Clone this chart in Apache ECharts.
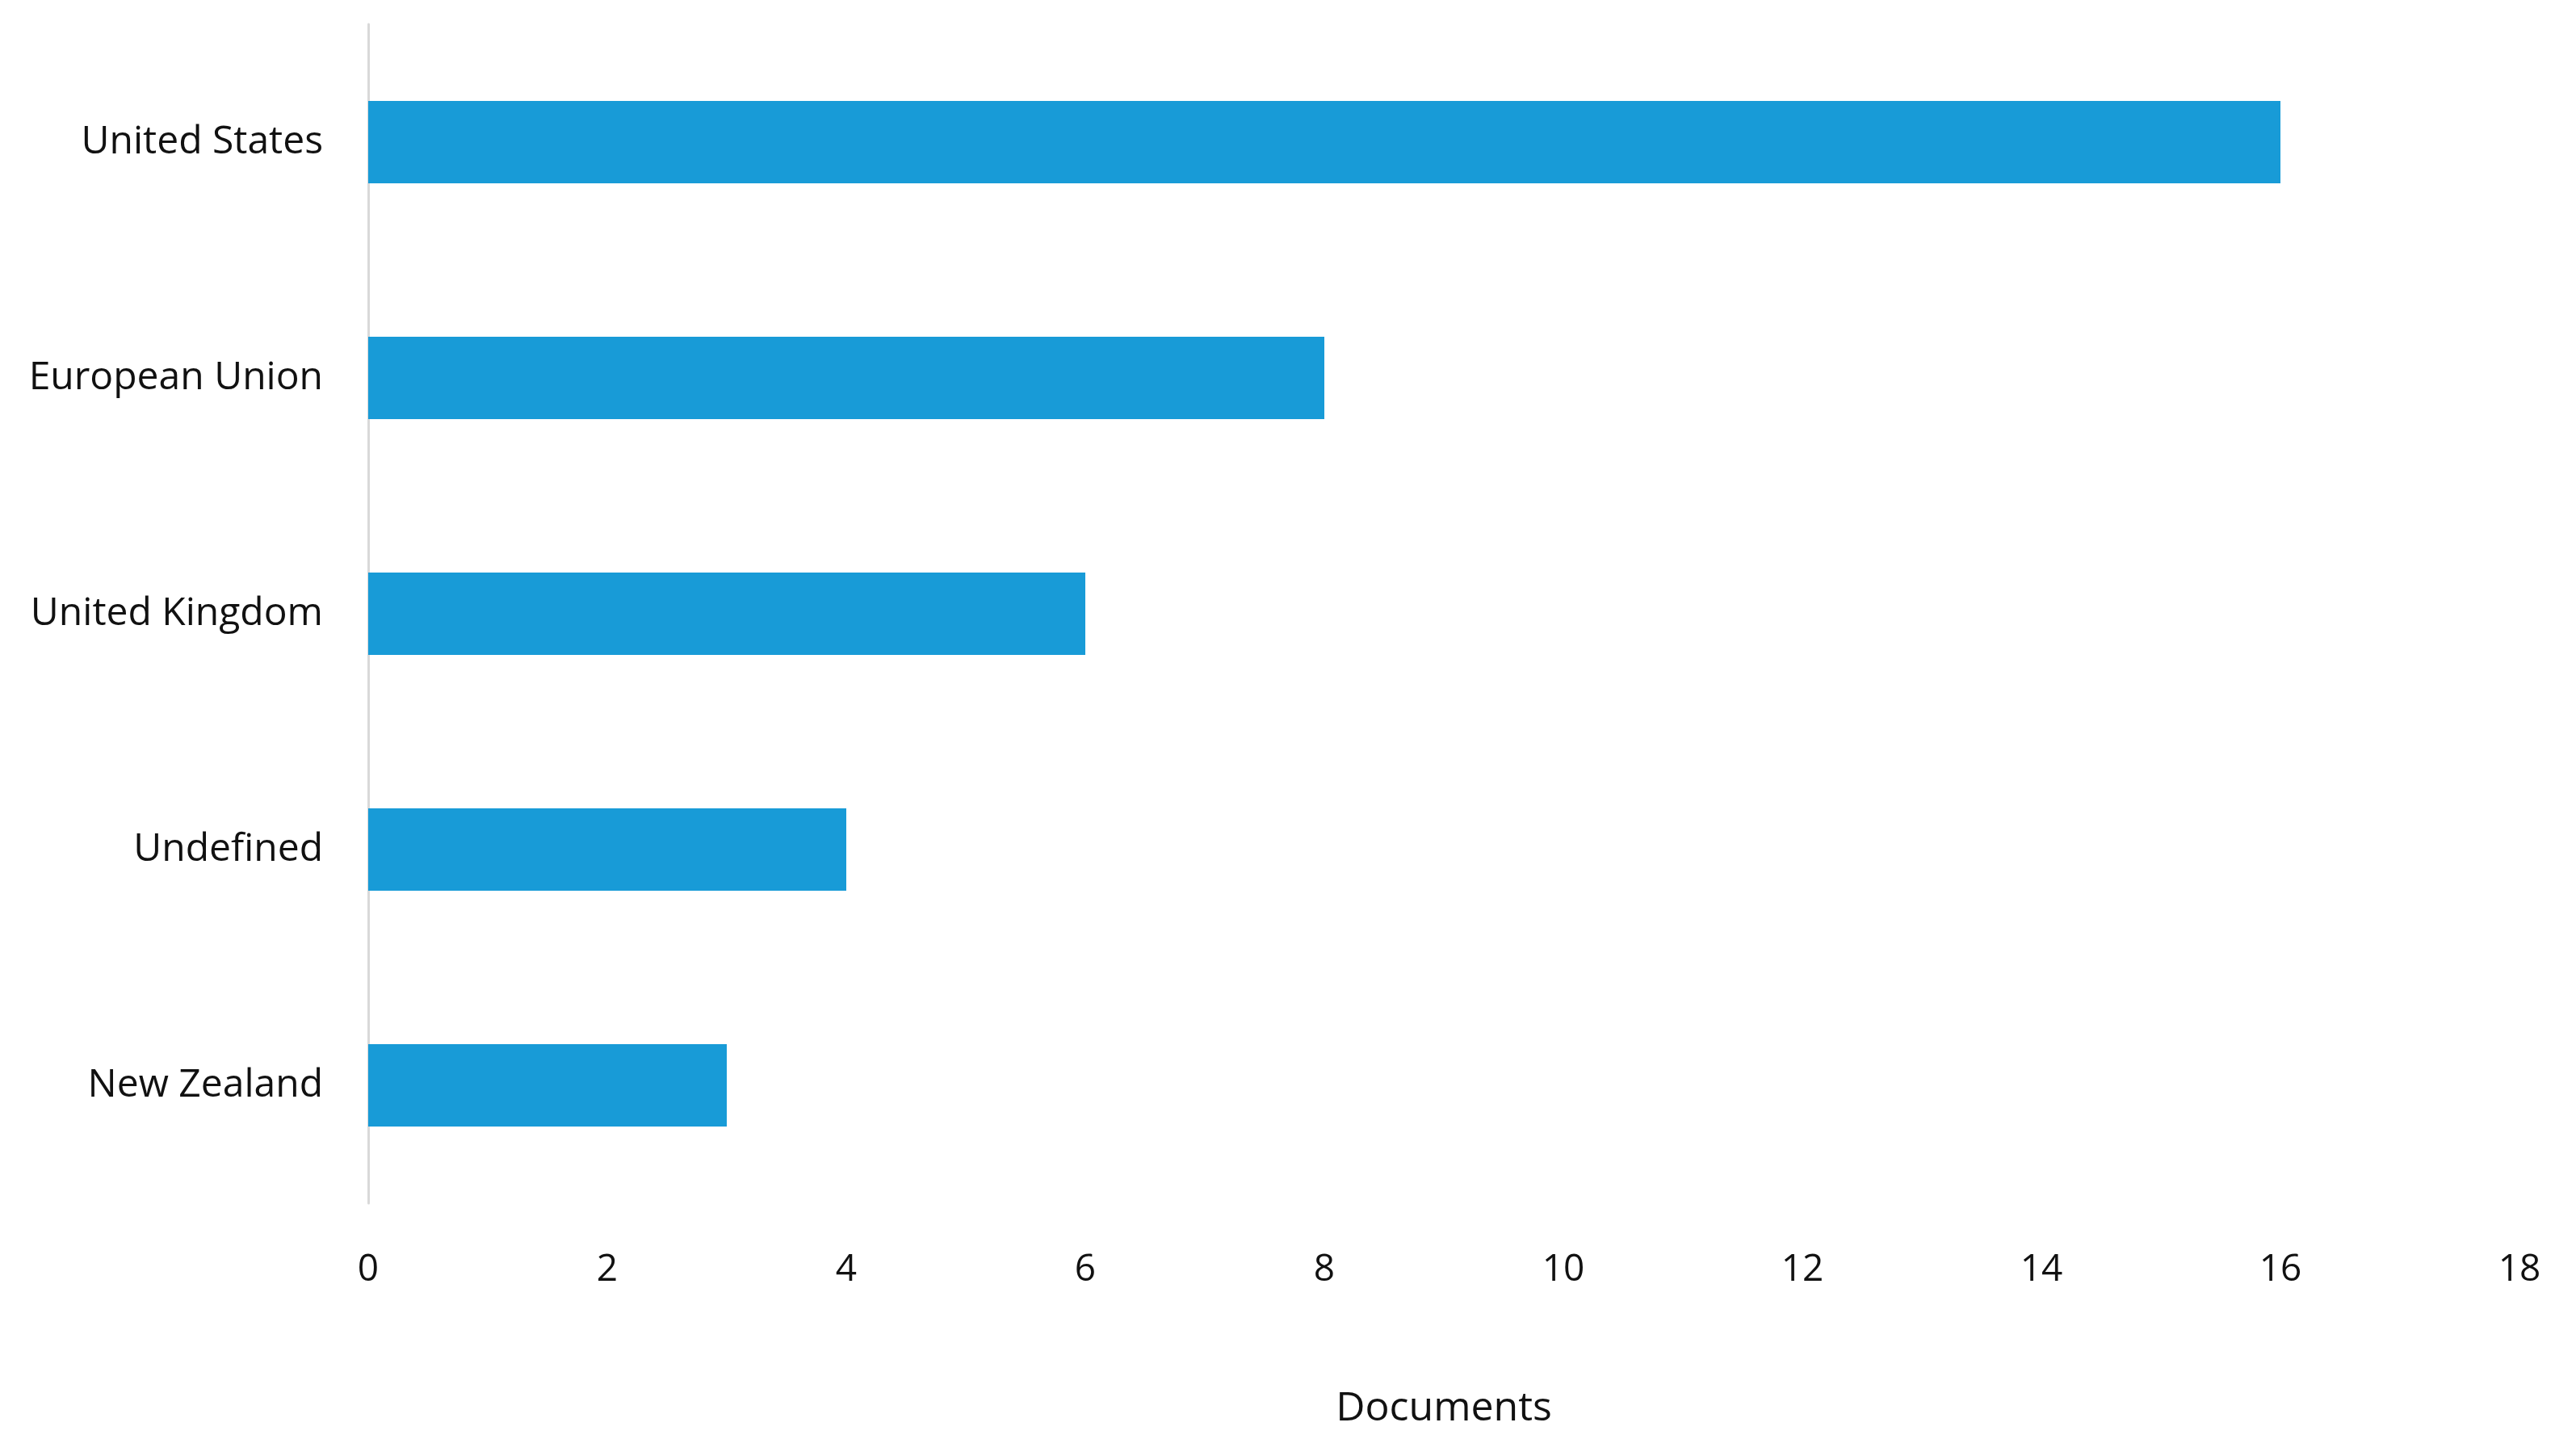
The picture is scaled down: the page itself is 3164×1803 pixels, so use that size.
<!DOCTYPE html>
<html>
<head>
<meta charset="utf-8">
<script src="https://cdn.jsdelivr.net/npm/echarts@6/dist/echarts.min.js"></script>
<style>html,body{margin:0;padding:0;background:#fff}#main{width:3164px;height:1803px}</style>
</head>
<body>
<div id="main"></div>
<script>
// categories from top to bottom
var categories = ['United States', 'European Union', 'United Kingdom', 'Undefined', 'New Zealand'];
var documents = [16, 8, 6, 4, 3];
var xTicks = [0, 2, 4, 6, 8, 10, 12, 14, 16, 18];

var myChart = echarts.init(document.getElementById('main'));
var option = {
    backgroundColor: '#fff',
    textStyle: { fontFamily: 'Open Sans' },
    grid: { left: 456, right: 44, top: 30, bottom: 313 },
    xAxis: {
        type: 'value',
        min: xTicks[0],
        max: xTicks[xTicks.length - 1],
        interval: 2,
        name: 'Documents',
        nameLocation: 'middle',
        nameGap: 230,
        nameTextStyle: { fontSize: 50, color: '#111' },
        axisLine: { show: false },
        axisTick: { show: false },
        splitLine: { show: false },
        axisLabel: { fontSize: 46, color: '#111', margin: 60 }
    },
    yAxis: {
        type: 'category',
        inverse: true,
        data: categories,
        axisLine: { show: true, lineStyle: { color: '#d9d9d9', width: 3 } },
        axisTick: { show: false },
        axisLabel: { fontSize: 48, color: '#111', margin: 56 }
    },
    series: [{
        type: 'bar',
        data: documents,
        barWidth: 102,
        itemStyle: { color: '#189bd7' }
    }]
};
myChart.setOption(option);
</script>
</body>
</html>
